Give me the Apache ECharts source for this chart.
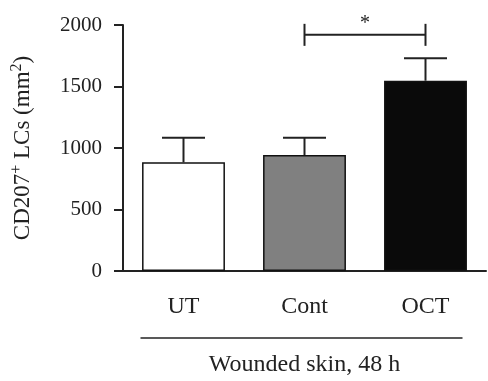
<!DOCTYPE html>
<html><head><meta charset="utf-8">
<script src="https://cdn.jsdelivr.net/npm/echarts@6/dist/echarts.min.js"></script>
<style>html,body{margin:0;padding:0;background:#fff}#c{width:488px;height:381px}</style>
</head><body><div id="c"></div>
<script>
const categories = ['UT', 'Cont', 'OCT'];
const means = [884, 943, 1547];
const errors = [200, 141, 182];
const barColors = ['#ffffff', '#808080', '#0a0a0a'];
const sigPairs = [[1, 2, 1920, '*']];
const yTicks = [0, 500, 1000, 1500, 2000];
const groupTitle = 'Wounded skin, 48 h';

const FONT = 'Liberation Serif';
const chart = echarts.init(document.getElementById('c'), null, {renderer: 'canvas'});

const option = {
  animation: false,
  backgroundColor: '#fff',
  grid: {left: 123, right: 2, top: 25, bottom: 110, containLabel: false, outerBoundsMode: 'none'},
  xAxis: {
    type: 'category', data: categories,
    axisLine: {lineStyle: {color: '#222', width: 2}},
    axisTick: {alignWithLabel: true, length: 10, lineStyle: {color: '#222', width: 2}},
    axisLabel: {color: '#222', fontFamily: FONT, fontSize: 24, margin: 24},
    name: groupTitle, nameLocation: 'middle', nameGap: 82,
    nameTextStyle: {color: '#222', fontFamily: FONT, fontSize: 24}
  },
  yAxis: {
    type: 'value', min: yTicks[0], max: yTicks[yTicks.length - 1], interval: 500,
    splitLine: {show: false},
    axisLine: {show: true, lineStyle: {color: '#222', width: 2}},
    axisTick: {show: true, length: 9, lineStyle: {color: '#222', width: 2}},
    axisLabel: {color: '#222', fontFamily: FONT, fontSize: 21, margin: 21,
      formatter: v => String(v)},
    name: 'CD207{sup|+} LCs (mm{sup|2})',
    nameLocation: 'middle', nameGap: 86,
    nameTextStyle: {color: '#222', fontFamily: FONT, fontSize: 23,
      rich: {sup: {fontFamily: FONT, fontSize: 16, verticalAlign: 'top', padding: [0, 0, 12, 0], color: '#222'}}}
  },
  series: [
    {
      type: 'bar', barWidth: '68.5%',
      data: means.map((v, i) => ({value: v, itemStyle: {color: barColors[i]}})),
      itemStyle: {borderColor: '#111', borderWidth: 1.5},
      z: 2
    },
    {
      type: 'custom', z: 1,
      data: means.map((v, i) => [i, v, v + errors[i]]),
      renderItem: function (params, api) {
        const p0 = api.coord([api.value(0), api.value(1)]);
        const p1 = api.coord([api.value(0), api.value(2)]);
        const hw = 21.5;
        const st = {stroke: '#222', lineWidth: 2};
        return {type: 'group', children: [
          {type: 'line', shape: {x1: p0[0], y1: p0[1], x2: p1[0], y2: p1[1]}, style: st},
          {type: 'line', shape: {x1: p1[0] - hw, y1: p1[1], x2: p1[0] + hw, y2: p1[1]}, style: st}
        ]};
      }
    },
    {
      type: 'custom', z: 3,
      data: sigPairs.map(s => [s[0], s[1], s[2]]),
      renderItem: function (params, api) {
        const a = api.coord([api.value(0), api.value(2)]);
        const b = api.coord([api.value(1), api.value(2)]);
        const st = {stroke: '#222', lineWidth: 2};
        const h = 11;
        return {type: 'group', children: [
          {type: 'line', shape: {x1: a[0], y1: a[1], x2: b[0], y2: b[1]}, style: st},
          {type: 'line', shape: {x1: a[0], y1: a[1] - h, x2: a[0], y2: a[1] + h}, style: st},
          {type: 'line', shape: {x1: b[0], y1: b[1] - h, x2: b[0], y2: b[1] + h}, style: st},
          {type: 'text', x: (a[0] + b[0]) / 2, y: a[1] - 11,
            style: {text: sigPairs[params.dataIndex][3], fontFamily: FONT, fontSize: 20, fill: '#222', align: 'center', verticalAlign: 'middle'}}
        ]};
      }
    }
  ]
};
chart.setOption(option);

// group underline below category labels
const left = chart.convertToPixel({xAxisIndex: 0}, categories[0]);
const right = chart.convertToPixel({xAxisIndex: 0}, categories[categories.length - 1]);
chart.setOption({graphic: [{
  type: 'line', shape: {x1: left - 43, y1: 338, x2: right + 37, y2: 338},
  style: {stroke: '#222', lineWidth: 1.5}
}]});
</script></body></html>
